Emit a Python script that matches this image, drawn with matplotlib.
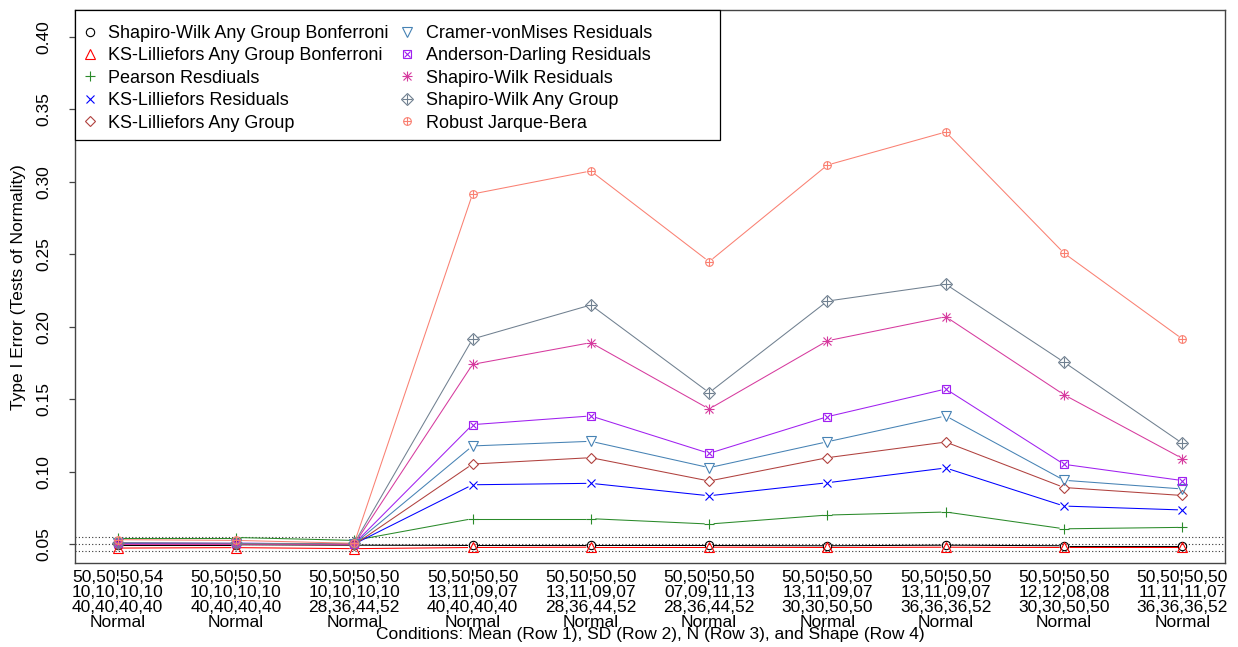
import matplotlib
matplotlib.use("Agg")
import matplotlib.pyplot as plt
from matplotlib.lines import Line2D
from matplotlib.patches import Rectangle
from matplotlib.legend_handler import HandlerTuple
import numpy as np

plt.rcParams["font.family"] = ["Liberation Sans", "DejaVu Sans"]

# ---- data -----------------------------------------------------------------
conditions = [
    "50,50¦50,54\n10,10,10,10\n40,40,40,40\nNormal",
    "50,50¦50,50\n10,10,10,10\n40,40,40,40\nNormal",
    "50,50¦50,50\n10,10,10,10\n28,36,44,52\nNormal",
    "50,50¦50,50\n13,11,09,07\n40,40,40,40\nNormal",
    "50,50¦50,50\n13,11,09,07\n28,36,44,52\nNormal",
    "50,50¦50,50\n07,09,11,13\n28,36,44,52\nNormal",
    "50,50¦50,50\n13,11,09,07\n30,30,50,50\nNormal",
    "50,50¦50,50\n13,11,09,07\n36,36,36,52\nNormal",
    "50,50¦50,50\n12,12,08,08\n30,30,50,50\nNormal",
    "50,50¦50,50\n11,11,11,07\n36,36,36,52\nNormal",
]

sw_any_bonf = [0.0495, 0.0495, 0.0492, 0.0490, 0.0490, 0.0490, 0.0488, 0.0492, 0.0488, 0.0488]
ks_any_bonf = [0.0472, 0.0475, 0.0468, 0.0476, 0.0478, 0.0478, 0.0476, 0.0478, 0.0476, 0.0476]
pearson_res = [0.0545, 0.0545, 0.0525, 0.0675, 0.0675, 0.0638, 0.0700, 0.0721, 0.0605, 0.0615]
ks_res      = [0.0505, 0.0505, 0.0500, 0.0909, 0.0919, 0.0833, 0.0923, 0.1025, 0.0762, 0.0735]
ks_any      = [0.0500, 0.0498, 0.0495, 0.1052, 0.1096, 0.0935, 0.1096, 0.1204, 0.0890, 0.0835]
cvm_res     = [0.0505, 0.0502, 0.0500, 0.1177, 0.1209, 0.1027, 0.1206, 0.1384, 0.0940, 0.0880]
ad_res      = [0.0508, 0.0505, 0.0502, 0.1324, 0.1384, 0.1126, 0.1379, 0.1570, 0.1050, 0.0938]
sw_res      = [0.0500, 0.0500, 0.0498, 0.1740, 0.1890, 0.1432, 0.1903, 0.2069, 0.1530, 0.1090]
sw_any      = [0.0510, 0.0505, 0.0505, 0.1915, 0.2150, 0.1545, 0.2177, 0.2293, 0.1755, 0.1195]
robust_jb   = [0.0530, 0.0525, 0.0505, 0.2916, 0.3075, 0.2449, 0.3116, 0.3344, 0.2507, 0.1915]

series_names = [
    "Shapiro-Wilk Any Group Bonferroni",
    "KS-Lilliefors Any Group Bonferroni",
    "Pearson Resdiuals",
    "KS-Lilliefors Residuals",
    "KS-Lilliefors Any Group",
    "Cramer-vonMises Residuals",
    "Anderson-Darling Residuals",
    "Shapiro-Wilk Residuals",
    "Shapiro-Wilk Any Group",
    "Robust Jarque-Bera",
]
series_values = [sw_any_bonf, ks_any_bonf, pearson_res, ks_res, ks_any,
                 cvm_res, ad_res, sw_res, sw_any, robust_jb]
series_colors = ["black", "red", "#2a8a2a", "blue", "#b0413e",
                 "#4682b4", "#a020f0", "#d63a9e", "#708090", "#fa8072"]

yticks = [0.05, 0.10, 0.15, 0.20, 0.25, 0.30, 0.35, 0.40]
ref_lines = [0.045, 0.050, 0.055]

# ---- marker styles (R pch 1..10) ------------------------------------------
def marker_parts(i, color):
    """Return a list of marker specs that overlay to form the symbol."""
    base = dict(color=color, linestyle="none", markerfacecolor="none",
                markeredgecolor=color, markeredgewidth=0.8)
    if i == 0:
        return [dict(base, marker="o", markersize=6)]
    if i == 1:
        return [dict(base, marker="^", markersize=6.5)]
    if i == 2:
        return [dict(base, marker="+", markersize=7.5)]
    if i == 3:
        return [dict(base, marker="x", markersize=5.5)]
    if i == 4:
        return [dict(base, marker="D", markersize=5.5)]
    if i == 5:
        return [dict(base, marker="v", markersize=6.5)]
    if i == 6:
        return [dict(base, marker="s", markersize=5.5),
                dict(base, marker="x", markersize=3.8)]
    if i == 7:
        return [dict(base, marker="+", markersize=7.5),
                dict(base, marker="x", markersize=5.5)]
    if i == 8:
        return [dict(base, marker="D", markersize=6),
                dict(base, marker="+", markersize=7.5)]
    return [dict(base, marker="o", markersize=5.5),
            dict(base, marker="+", markersize=5.5)]

# ---- figure ---------------------------------------------------------------
W, H = 1238, 647
fig = plt.figure(figsize=(W / 100, H / 100), dpi=100)
ax = fig.add_axes([75 / W, 1 - 563 / H, 1150 / W, 553 / H])

n = len(conditions)
x = np.arange(1, n + 1)
ax.set_xlim(1 - 0.04 * (n - 1), n + 0.04 * (n - 1))
ax.set_ylim(0.0369, 0.4186)

for yv in ref_lines:
    ax.axhline(yv, color="#333333", linestyle=(0, (1, 2)), linewidth=0.8, zorder=1)

fig.canvas.draw()
gap = 4.5  # pixel gap between connecting lines and point symbols

handles = []
for i, (vals, col) in enumerate(zip(series_values, series_colors)):
    vals = np.asarray(vals)
    pts = ax.transData.transform(np.column_stack([x, vals]))
    for k in range(n - 1):
        p0, p1 = pts[k], pts[k + 1]
        d = p1 - p0
        L = np.hypot(*d)
        if L <= 2 * gap:
            continue
        u = d / L
        seg = np.array([p0 + u * gap, p1 - u * gap])
        seg_data = ax.transData.inverted().transform(seg)
        ax.plot(seg_data[:, 0], seg_data[:, 1], color=col, linewidth=0.75,
                solid_capstyle="butt", zorder=2 + i * 0.01)
    parts = []
    for spec in marker_parts(i, col):
        ax.plot(x, vals, zorder=3 + i * 0.01, **spec)
        parts.append(Line2D([], [], **spec))
    handles.append(tuple(parts))

# axes styling
for sp in ax.spines.values():
    sp.set_color("#444444")
    sp.set_linewidth(1.0)

ax.set_yticks(yticks)
ax.set_yticklabels([f"{v:.2f}" for v in yticks], rotation=90, va="center",
                   fontsize=12.5)
ax.tick_params(axis="y", direction="out", length=4.3, width=0.9, pad=13,
               color="#444444")

ax.set_xticks(x)
ax.set_xticklabels(conditions, fontsize=12.5, linespacing=0.99)
ax.tick_params(axis="x", length=0, pad=5)

fig.text(650 / W, 1 - 635 / H,
         "Conditions: Mean (Row 1), SD (Row 2), N (Row 3), and Shape (Row 4)",
         ha="center", va="center", fontsize=12.5)
fig.text(19 / W, 1 - 287 / H, "Type I Error (Tests of Normality)",
         ha="center", va="center", rotation=90, fontsize=12.5)

# legend box (white panel with black border) and entries
box_w, box_h = 645, 130
ax.add_patch(Rectangle((0, 1 - box_h / 553), box_w / 1150, box_h / 553,
                       transform=ax.transAxes, facecolor="white",
                       edgecolor="black", linewidth=0.9, zorder=9,
                       clip_on=False))
leg = ax.legend(handles, series_names, ncol=2, loc="upper left",
                bbox_to_anchor=(0, 1 - 9 / 553), borderaxespad=0, fontsize=13,
                handler_map={tuple: HandlerTuple(ndivide=1)},
                handlelength=1.0, handletextpad=0.5, labelspacing=0.3,
                columnspacing=0.55, borderpad=0.33, frameon=False)
leg.set_zorder(10)

fig.savefig("out.png", dpi=100)
